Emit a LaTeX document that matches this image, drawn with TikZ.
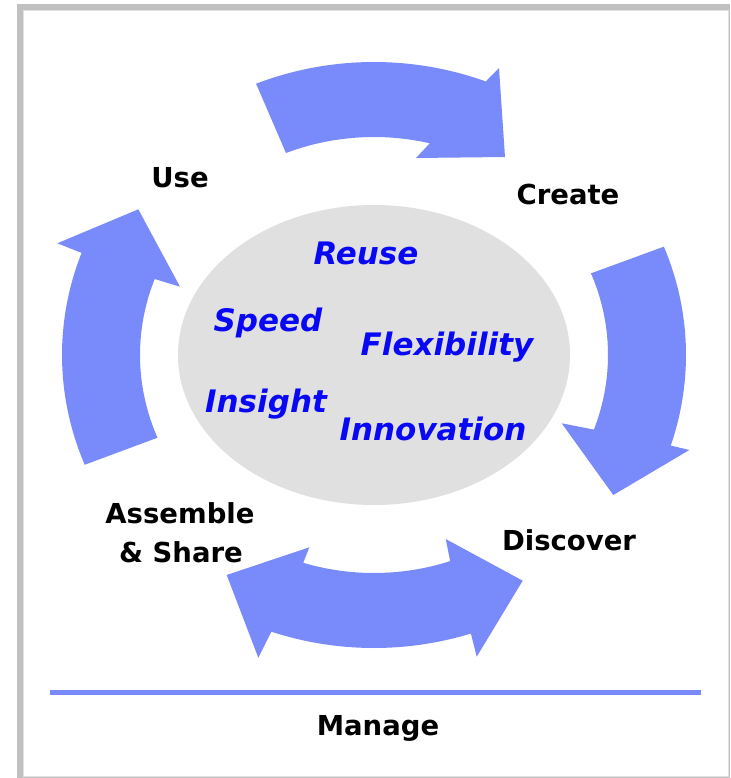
\documentclass[tikz,border=0pt]{standalone}
\usepackage{fontspec}
\setmainfont{DejaVu Sans}
\definecolor{arrowblue}{RGB}{121,139,251}
\definecolor{ellgray}{RGB}{224,224,224}
\definecolor{framegray}{RGB}{192,192,192}
\definecolor{framelight}{RGB}{225,225,225}
\definecolor{wordblue}{RGB}{8,8,245}
\begin{document}
\begin{tikzpicture}[x=1pt,y=-1pt,
  lab/.style={font=\fontsize{27.5}{33}\selectfont\bfseries, anchor=base, inner sep=0pt},
  word/.style={font=\fontsize{31}{37}\selectfont\bfseries\itshape, text=wordblue, anchor=base, inner sep=0pt},
  arr/.style={fill=arrowblue},
  outerarc/.style={domain=#1, samples=40, variable=\t},
  innerarc/.style={domain=#1, samples=40, variable=\t}]
\useasboundingbox (0,0) rectangle (730,778);
% frame
\fill[framegray] (17,4) rectangle (730,778);
\fill[white] (23,10) rectangle (728,776);
\draw[framelight, line width=0.8pt] (23.4,10.4) rectangle (728,776);
% central ellipse
\fill[ellgray] (374,355) ellipse [x radius=196, y radius=150];
% top arrow (Use -> Create)
\fill[arr] plot[outerarc=247.8:291] ({374+312*cos(\t)},{355+293*sin(\t)})
  -- (499,68) -- (505,157) -- (416,158)
  -- plot[innerarc=283.8:247.9] ({374+234*cos(\t)},{355+218*sin(\t)}) -- cycle;
% right arrow (Create -> Discover)
\fill[arr] plot[outerarc=-21.7:18] ({374+312*cos(\t)},{355+293*sin(\t)})
  -- (689.3,450) -- (613.3,495) -- (561.7,423.3)
  -- plot[innerarc=20:-22] ({374+234*cos(\t)},{355+218*sin(\t)}) -- cycle;
% bottom double arrow (Discover <-> Assemble & Share)
\fill[arr] (226.7,575) -- (309.3,547.3)
  -- plot[innerarc=107.6:71] ({374+234*cos(\t)},{355+218*sin(\t)})
  -- (445.7,539) -- (522.7,580.7) -- (476.7,656.7)
  -- plot[outerarc=71.9:109.2] ({374+312*cos(\t)},{355+293*sin(\t)})
  -- (258.3,657.7) -- cycle;
% left arrow (Assemble & Share -> Use)
\fill[arr] plot[outerarc=158:200.4] ({374+312*cos(\t)},{355+293*sin(\t)})
  -- (57.3,243.3) -- (138.3,209.3) -- (180,286.7)
  -- plot[innerarc=200.4:157.7] ({374+234*cos(\t)},{355+218*sin(\t)}) -- cycle;
% manage line
\fill[arrowblue] (50,690) rectangle (701,695);
% stage labels
\node[lab] (use) at (180,187.5) {Use};
\node[lab] (create) at (568,204) {Create};
\node[lab] (discover) at (569,550) {Discover};
\node[lab] (assemble) at (180,523) {Assemble};
\node[lab] (share) at (181,562) {\& Share};
\node[lab] (manage) at (378,735) {Manage};
% benefit words
\node[word] (reuse) at (366,264) {Reuse};
\node[word] (speed) at (268,331) {Speed};
\node[word] (flex) at (447,355) {Flexibility};
\node[word] (insight) at (266,412) {Insight};
\node[word] (innov) at (433,440) {Innovation};
\end{tikzpicture}
\end{document}
